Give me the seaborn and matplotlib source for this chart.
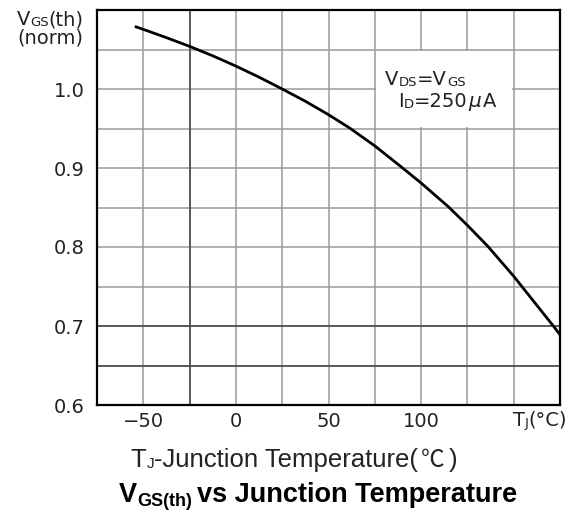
import matplotlib
matplotlib.use("Agg")
import matplotlib.pyplot as plt
import seaborn as sns
import pandas as pd
from matplotlib.patches import Rectangle

# ---- data ----
temperature = [-54.6, -50, -37.5, -25, -12.5, 0, 12.5, 25, 37.5, 50, 61.5, 75,
               89.5, 100, 114.7, 125, 136, 150, 171.4, 175]
vgs_norm = [1.0792, 1.0755, 1.065, 1.054, 1.042, 1.029, 1.015, 1.000, 0.9845, 0.9675, 0.9505, 0.928,
            0.901, 0.881, 0.851, 0.8275, 0.801, 0.763, 0.700, 0.689]

x_ticks = [-75, -50, -25, 0, 25, 50, 75, 100, 125, 150, 175]
x_tick_labels = ["", "\u221250", "", "0", "", "50", "", "100", "", "", ""]
y_ticks = [0.6, 0.65, 0.7, 0.75, 0.8, 0.85, 0.9, 0.95, 1.0, 1.05, 1.1]
y_tick_labels = ["0.6", "", "0.7", "", "0.8", "", "0.9", "", "1.0", "", ""]

df = pd.DataFrame({"Tj": temperature, "Vgs": vgs_norm})

sns.set_style("white")
plt.rcParams["font.family"] = ["DejaVu Sans"]

W, H = 586, 515
fig = plt.figure(figsize=(W / 100, H / 100), dpi=100)
ax = fig.add_axes([97 / W, 1 - 405 / H, (560 - 97) / W, (405 - 10) / H])

ax.set_xlim(-75, 175)
ax.set_ylim(0.6, 1.1)
ax.set_xticks(x_ticks)
ax.set_xticklabels(x_tick_labels)
ax.set_yticks(y_ticks)
ax.set_yticklabels(y_tick_labels)
ax.tick_params(axis="both", length=0, labelsize=14, colors="#222222")
ax.tick_params(axis="x", pad=5)
ax.tick_params(axis="y", pad=9)

ax.grid(True, color="#9a9a9a", linewidth=1.1)
ax.set_axisbelow(True)
ax.axvline(-25, color="#444444", linewidth=1.1, zorder=0.6)
for yv in (0.65, 0.7):
    ax.axhline(yv, color="#444444", linewidth=1.1, zorder=0.6)

ax.add_patch(Rectangle((75.7, 0.9515), 73.6, 0.097, facecolor="white",
                       edgecolor="none", zorder=1))

sns.lineplot(data=df, x="Tj", y="Vgs", ax=ax, color="black", linewidth=2.0,
             zorder=3, solid_joinstyle="round", solid_capstyle="butt")
ax.set_xlabel("")
ax.set_ylabel("")

for s in ax.spines.values():
    s.set_visible(True)
    s.set_color("black")
    s.set_linewidth(1.6)

renderer = fig.canvas.get_renderer()
TXT = "#222222"


def put_pieces(x_px, base_px, pieces, ha="center"):
    """pieces: (text, size, dict(extra)) ; extra may hold dy (px, down), gap (px after), family, weight"""
    objs = []
    for s, size, extra in pieces:
        t = fig.text(0, 0, s, fontsize=size, va="baseline", ha="left",
                     color=extra.get("color", TXT),
                     family=extra.get("family", ["DejaVu Sans"]),
                     fontweight=extra.get("weight", "normal"))
        objs.append(t)
    widths = [t.get_window_extent(renderer).width for t in objs]
    gaps = [p[2].get("gap", 0) for p in pieces]
    total = sum(widths) + sum(gaps[:-1])
    x = x_px - total / 2 if ha == "center" else x_px
    for t, w, g, p in zip(objs, widths, gaps, pieces):
        t.set_position((x / W, 1 - (base_px + p[2].get("dy", 0)) / H))
        x += w + g


# x tick label at 150 : TJ(°C)
put_pieces(540, 426, [("T", 14, {}), ("J", 9.5, {"dy": 0.5}), ("(°C)", 14, {})])

# annotation
put_pieces(385, 85, [("V", 14, {}), ("DS", 9.5, {"dy": 0.5}), ("=V", 14, {}),
                     ("GS", 9.5, {"dy": 0.5})], ha="left")
put_pieces(398, 107, [("I", 14, {}), ("D", 9.5, {"dy": 0.5}), ("=250", 14, {"gap": 1}),
                      (r"$\mu$", 14.5, {}), ("A", 14, {})], ha="left")

# y label
put_pieces(50, 25, [("V", 14, {}), ("GS", 9.5, {"dy": 0.5}), ("(th)", 14, {})])
put_pieces(50, 44, [("(norm)", 14, {})])

# x label
LIB = ["Liberation Sans", "DejaVu Sans"]
put_pieces(294, 467, [("T", 18.5, {"family": LIB}),
                      ("J", 11, {"family": LIB, "dy": 1.5}),
                      ("-Junction Temperature(", 18.5, {"family": LIB, "gap": 3}),
                      ("℃", 17, {"family": ["Noto Sans CJK SC"], "gap": 4}),
                      (")", 18.5, {"family": LIB})])

# title
put_pieces(318, 502, [("V", 19.5, {"family": LIB, "weight": "bold", "color": "black"}),
                      ("GS(th)", 13, {"family": LIB, "weight": "bold", "dy": 4, "gap": 5,
                                      "color": "black"}),
                      ("vs Junction Temperature", 19.5, {"family": LIB, "weight": "bold",
                                                         "color": "black"})])

fig.savefig("out.png", dpi=100)
